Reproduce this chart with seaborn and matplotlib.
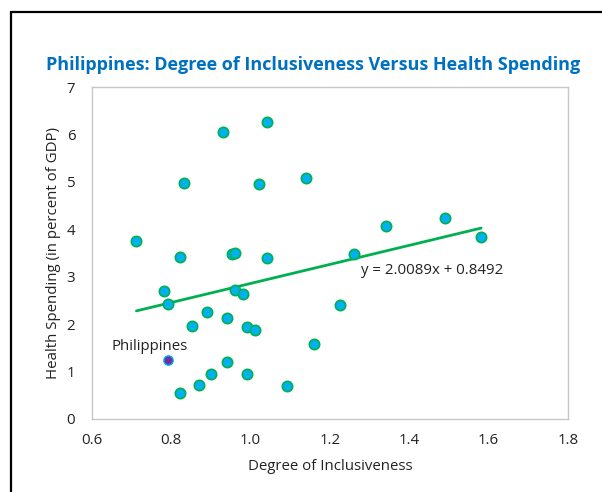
import numpy as np
import pandas as pd
import matplotlib
matplotlib.use("Agg")
import matplotlib.pyplot as plt
import seaborn as sns
from matplotlib.patches import Rectangle

# values
inclusiveness = [0.931, 1.041, 0.831, 1.021, 1.140, 0.712, 0.821, 0.952, 0.961, 1.041,
                 1.340, 1.490, 1.581, 1.260, 0.781, 0.792, 0.961, 0.981, 0.890, 0.852,
                 0.941, 0.991, 1.012, 1.160, 1.224, 0.941, 0.901, 0.991, 0.871, 0.821,
                 1.091]
health_spending = [6.06, 6.26, 4.97, 4.96, 5.08, 3.75, 3.42, 3.48, 3.51, 3.40,
                   4.06, 4.23, 3.84, 3.48, 2.70, 2.42, 2.71, 2.64, 2.26, 1.97,
                   2.12, 1.93, 1.88, 1.58, 2.41, 1.20, 0.95, 0.94, 0.71, 0.55,
                   0.70]
phl_x = [0.791]
phl_y = [1.245]
slope, intercept = 2.0089, 0.8492

xticks = [0.6, 0.8, 1.0, 1.2, 1.4, 1.6, 1.8]
yticks = [0, 1, 2, 3, 4, 5, 6, 7]

df = pd.DataFrame({"x": inclusiveness, "y": health_spending})
allx = inclusiveness + phl_x
trend = pd.DataFrame({"x": [min(allx), max(allx)]})
trend["y"] = slope * trend["x"] + intercept

sns.set_theme(style="white")
plt.rcParams["font.family"] = ["Open Sans", "DejaVu Sans"]

fig = plt.figure(figsize=(6.02, 4.92), dpi=100)
ax = fig.add_axes([92 / 602, 1 - 419 / 492, 476 / 602, 332 / 492])

# outer frame
fig.patches.append(Rectangle((11 / 602, -0.1), 1.2, 1 - 12 / 492 + 0.1, transform=fig.transFigure,
                             fill=False, edgecolor="black", linewidth=1.6))

sns.lineplot(data=trend, x="x", y="y", ax=ax, color="#00B050", linewidth=2.0, zorder=2)
sns.scatterplot(data=df, x="x", y="y", ax=ax, s=55, color="#00B0F0",
                edgecolor="#00B050", linewidth=1.2, zorder=3)
sns.scatterplot(x=phl_x, y=phl_y, ax=ax, s=45, color="#7030A0",
                edgecolor="#00B0F0", linewidth=1.0, zorder=4)

fs = 10.8
ax.text(0.648, 1.52, "Philippines", fontsize=fs, color="#222222", ha="left", va="center")
ax.text(1.278, 3.14, "y = 2.0089x + 0.8492", fontsize=fs, color="#222222", ha="left", va="center")

ax.set_xlim(0.6, 1.8)
ax.set_ylim(0, 7)
ax.set_xticks(xticks)
ax.set_xticklabels([f"{v:.1f}" for v in xticks])
ax.set_yticks(yticks)
ax.tick_params(axis="x", length=0, pad=10, labelsize=fs, colors="#222222")
ax.tick_params(axis="y", length=0, pad=12, labelsize=fs, colors="#222222")
for sp in ax.spines.values():
    sp.set_color("#C8C8C8")
    sp.set_linewidth(1.0)

ax.set_xlabel("Degree of Inclusiveness", fontsize=fs, color="#222222", labelpad=8)
ax.set_ylabel("Health Spending (in percent of GDP)", fontsize=fs, color="#222222", labelpad=4)

fig.text(313 / 602, 1 - 65 / 492, "Philippines: Degree of Inclusiveness Versus Health Spending",
         ha="center", va="center", fontsize=13, fontweight="bold", color="#0070C0")

fig.savefig("out.png", dpi=100)
